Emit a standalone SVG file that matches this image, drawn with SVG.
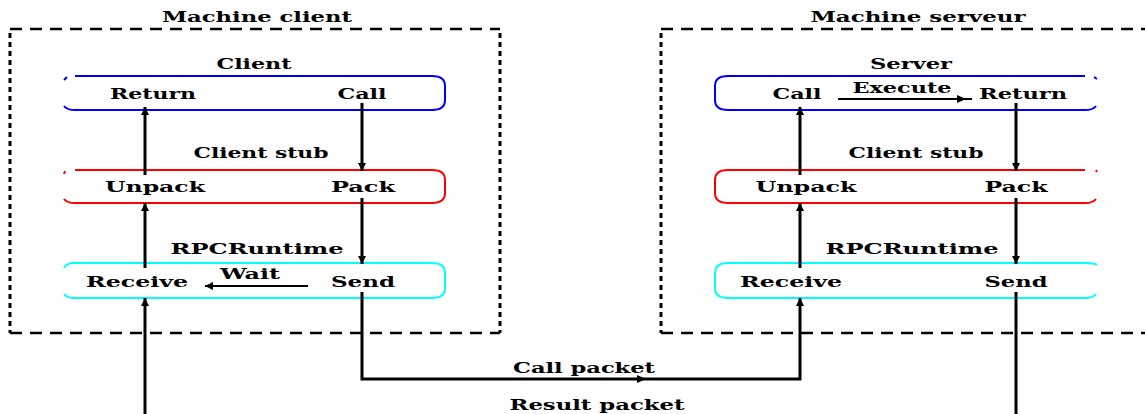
<svg xmlns="http://www.w3.org/2000/svg" width="1145" height="414" viewBox="0 0 1145 414">
<defs>
<marker id="ah" viewBox="0 0 8 8" refX="8" refY="4" markerWidth="8" markerHeight="8" markerUnits="userSpaceOnUse" orient="auto">
<path d="M0,0 L8,4 L0,8 Z" fill="#000"/>
</marker>
</defs>
<style>
.t{font-family:"DejaVu Serif","Liberation Serif",serif;font-weight:bold;font-size:14px;fill:#000}
.dh{stroke:#000;stroke-width:2.5;stroke-dasharray:12 8;fill:none}
.dv{stroke:#000;stroke-width:3;stroke-dasharray:5 4;fill:none}
.b{fill:none;stroke:#0000ff;stroke-width:2}
.r{fill:none;stroke:#ff0000;stroke-width:2}
.c{fill:none;stroke:#00ffff;stroke-width:2}
.w{stroke:#000;stroke-width:3;fill:none}
.a{stroke:#000;stroke-width:3;fill:none;marker-end:url(#ah)}
.ln{stroke:#000;stroke-width:2;fill:none}
</style>
<rect width="1145" height="414" fill="#fff"/>

<g id="machine-client">
<line class="dh" x1="10" y1="29" x2="500" y2="29"/>
<line class="dh" x1="10" y1="333" x2="500" y2="333"/>
<line class="dv" x1="10" y1="33" x2="10" y2="333"/>
<line class="dv" x1="500" y1="33" x2="500" y2="333"/>
<text class="t" x="257" y="22" text-anchor="middle" textLength="190" lengthAdjust="spacingAndGlyphs">Machine client</text>
</g>

<g id="machine-serveur">
<line class="dh" x1="661" y1="29" x2="1145" y2="29"/>
<line class="dh" x1="661" y1="333" x2="1145" y2="333"/>
<line class="dv" x1="661" y1="33" x2="661" y2="333"/>
<text class="t" x="918" y="22" text-anchor="middle" textLength="215" lengthAdjust="spacingAndGlyphs">Machine serveur</text>
</g>

<g id="client">
<path class="b" d="M64,80 l3,-3 M75,76 H432 q13,0 13,10 V100 q0,10 -13,10 H75 q-8,0 -11,-4"/>
<text class="t" x="254" y="69" text-anchor="middle" textLength="75" lengthAdjust="spacingAndGlyphs">Client</text>
<text class="t" x="153" y="99" text-anchor="middle" textLength="86" lengthAdjust="spacingAndGlyphs">Return</text>
<text class="t" x="362" y="99" text-anchor="middle" textLength="49" lengthAdjust="spacingAndGlyphs">Call</text>
</g>

<g id="client-stub">
<path class="r" d="M64,174 l1,-3 M75,170 H432 q13,0 13,10 V193 q0,10 -13,10 H75 q-8,0 -11,-4"/>
<text class="t" x="261" y="158" text-anchor="middle" textLength="135" lengthAdjust="spacingAndGlyphs">Client stub</text>
<text class="t" x="155" y="192" text-anchor="middle" textLength="100" lengthAdjust="spacingAndGlyphs">Unpack</text>
<text class="t" x="363" y="192" text-anchor="middle" textLength="64" lengthAdjust="spacingAndGlyphs">Pack</text>
</g>

<g id="client-runtime">
<path class="c" d="M64,268 q2,-5 11,-5 H432 q13,0 13,10 V288 q0,10 -13,10 H75 q-8,0 -11,-4"/>
<text class="t" x="257" y="254" text-anchor="middle" textLength="173" lengthAdjust="spacingAndGlyphs">RPCRuntime</text>
<text class="t" x="137" y="287" text-anchor="middle" textLength="102" lengthAdjust="spacingAndGlyphs">Receive</text>
<text class="t" x="250" y="279" text-anchor="middle" textLength="60" lengthAdjust="spacingAndGlyphs">Wait</text>
<text class="t" x="363" y="287" text-anchor="middle" textLength="64" lengthAdjust="spacingAndGlyphs">Send</text>
</g>

<g id="server">
<path class="b" d="M1097,79 l-3,-2 M1085,76 H728 q-13,0 -13,10 V100 q0,10 13,10 H1085 q8,0 11,-4"/>
<text class="t" x="911" y="69" text-anchor="middle" textLength="82" lengthAdjust="spacingAndGlyphs">Server</text>
<text class="t" x="797" y="99" text-anchor="middle" textLength="49" lengthAdjust="spacingAndGlyphs">Call</text>
<text class="t" x="902" y="93" text-anchor="middle" textLength="99" lengthAdjust="spacingAndGlyphs">Execute</text>
<text class="t" x="1023" y="99" text-anchor="middle" textLength="88" lengthAdjust="spacingAndGlyphs">Return</text>
</g>

<g id="server-stub">
<path class="r" d="M1097,172 l-1,-2 M1085,170 H728 q-13,0 -13,10 V193 q0,10 13,10 H1085 q8,0 11,-4"/>
<text class="t" x="916" y="158" text-anchor="middle" textLength="135" lengthAdjust="spacingAndGlyphs">Client stub</text>
<text class="t" x="806" y="192" text-anchor="middle" textLength="101" lengthAdjust="spacingAndGlyphs">Unpack</text>
<text class="t" x="1016" y="192" text-anchor="middle" textLength="63" lengthAdjust="spacingAndGlyphs">Pack</text>
</g>

<g id="server-runtime">
<path class="c" d="M1097,265 q-2,-2 -12,-2 H728 q-13,0 -13,10 V288 q0,10 13,10 H1085 q8,0 11,-4"/>
<text class="t" x="912" y="254" text-anchor="middle" textLength="173" lengthAdjust="spacingAndGlyphs">RPCRuntime</text>
<text class="t" x="791" y="287" text-anchor="middle" textLength="102" lengthAdjust="spacingAndGlyphs">Receive</text>
<text class="t" x="1016" y="287" text-anchor="middle" textLength="63" lengthAdjust="spacingAndGlyphs">Send</text>
</g>

<g id="connectors">
<!-- client side -->
<line class="a" x1="145" y1="414" x2="145" y2="298"/>
<line class="a" x1="145" y1="268" x2="145" y2="203"/>
<line class="a" x1="145" y1="175" x2="145" y2="107"/>
<line class="a" x1="362" y1="103" x2="362" y2="171"/>
<line class="a" x1="362" y1="198" x2="362" y2="264"/>
<line class="ln" x1="308" y1="286" x2="205" y2="286" marker-end="url(#ah)"/>
<!-- call packet -->
<polyline class="w" points="362,292 362,379 800,379 800,310"/>
<line class="a" x1="800" y1="310" x2="800" y2="298"/>
<path d="M637,375 L646,379 L637,383 Z" fill="#000"/>
<text class="t" x="584" y="373" text-anchor="middle" textLength="142" lengthAdjust="spacingAndGlyphs">Call packet</text>
<text class="t" x="597" y="410" text-anchor="middle" textLength="175" lengthAdjust="spacingAndGlyphs">Result packet</text>
<!-- server side -->
<line class="a" x1="800" y1="268" x2="800" y2="203"/>
<line class="a" x1="800" y1="175" x2="800" y2="107"/>
<line class="a" x1="1016" y1="103" x2="1016" y2="171"/>
<line class="a" x1="1016" y1="198" x2="1016" y2="264"/>
<line class="w" x1="1016" y1="292" x2="1016" y2="414"/>
<line class="ln" x1="838" y1="99" x2="972" y2="99"/>
<path d="M957,95 L966,99 L957,103 Z" fill="#000"/>
</g>
</svg>
